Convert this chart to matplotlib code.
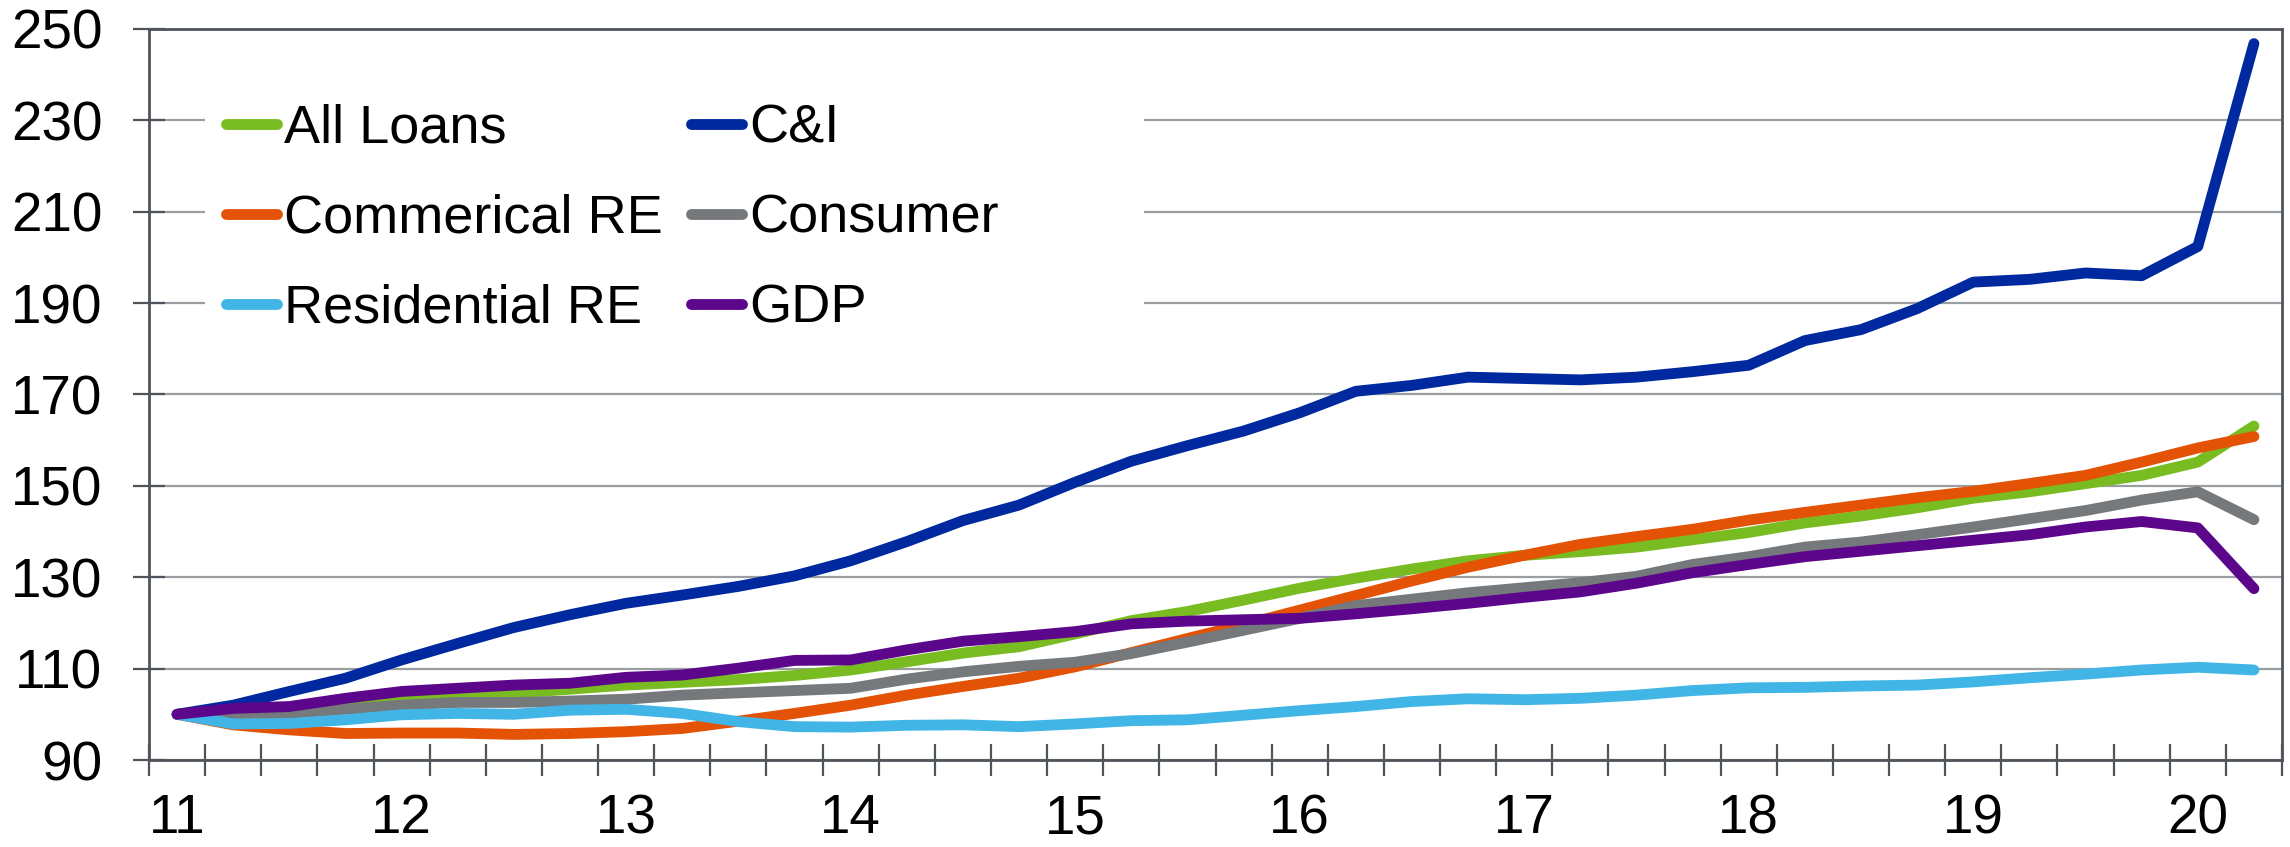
import matplotlib
matplotlib.use("Agg")
import matplotlib.pyplot as plt
from matplotlib.patches import Rectangle
import numpy as np

plt.rcParams['font.family'] = ['Liberation Sans', 'DejaVu Sans']

# Quarterly index, 2011Q1 = 100 (2011Q1 .. 2020Q2)
year_labels = ['11', '12', '13', '14', '15', '16', '17', '18', '19', '20']

all_loans = [100, 101.0, 101.5, 102.5, 103.4, 104.1, 104.6, 105.5, 106.4, 107.0,
             107.6, 108.5, 109.7, 111.5, 113.4, 114.8, 117.6, 120.5, 122.5, 125.0,
             127.6, 129.8, 131.8, 133.6, 134.8, 135.6, 136.6, 138.2, 139.8, 141.9,
             143.4, 145.2, 147.3, 148.7, 150.5, 152.3, 155.2, 163.1]
c_and_i = [100, 102.0, 105.0, 107.9, 111.9, 115.5, 119.0, 121.8, 124.3, 126.1,
           128.0, 130.3, 133.6, 137.8, 142.4, 145.8, 150.8, 155.4, 158.8, 162.0,
           166.0, 170.7, 172.0, 173.8, 173.5, 173.2, 173.8, 175.0, 176.4, 181.8,
           184.2, 188.8, 194.6, 195.2, 196.6, 196.0, 202.4, 246.8]
commercial_re = [100, 97.7, 96.6, 95.8, 95.9, 95.9, 95.6, 95.8, 96.2, 96.9,
                 98.5, 100.2, 102.0, 104.2, 106.1, 107.9, 110.4, 113.5, 116.6, 119.6,
                 122.8, 126.0, 129.2, 132.2, 134.8, 137.2, 138.9, 140.5, 142.5, 144.2,
                 145.8, 147.4, 148.8, 150.5, 152.3, 155.2, 158.3, 160.8]
consumer = [100, 100.0, 100.2, 101.1, 102.0, 102.6, 102.6, 102.9, 103.3, 104.2,
            104.7, 105.2, 105.7, 107.7, 109.3, 110.5, 111.4, 113.3, 115.8, 118.4,
            121.0, 123.8, 125.2, 126.6, 127.7, 128.8, 130.2, 132.8, 134.5, 136.6,
            137.7, 139.3, 141.0, 142.8, 144.6, 146.9, 148.7, 142.6]
residential_re = [100, 97.9, 98.0, 98.8, 99.9, 100.2, 100.0, 100.9, 101.1, 100.2,
                  98.4, 97.3, 97.2, 97.6, 97.7, 97.3, 97.9, 98.6, 98.8, 99.8,
                  100.8, 101.7, 102.8, 103.4, 103.2, 103.5, 104.2, 105.2, 105.8, 105.9,
                  106.2, 106.4, 107.1, 108.0, 108.8, 109.7, 110.3, 109.7]
gdp = [100, 101.3, 101.7, 103.5, 105.0, 105.7, 106.4, 106.8, 108.1, 108.6,
       110.1, 111.8, 111.9, 114.1, 116.0, 117.0, 118.1, 119.8, 120.4, 120.7,
       121.0, 122.0, 123.1, 124.3, 125.6, 126.8, 128.7, 131.0, 132.8, 134.5,
       135.7, 136.9, 138.1, 139.3, 141.0, 142.2, 140.8, 127.5]

series_names = ['All Loans', 'C&I', 'Commerical RE', 'Consumer', 'Residential RE', 'GDP']
series_values = [all_loans, c_and_i, commercial_re, consumer, residential_re, gdp]
series_colors = ['#78bc21', '#0029a0', '#e35205', '#76797c', '#41b6e6', '#5c068c']

y_ticks = [90, 110, 130, 150, 170, 190, 210, 230, 250]

fig = plt.figure(figsize=(22.9, 8.47), dpi=100)
ax = fig.add_axes([149 / 2290, 87 / 847, 2133 / 2290, 731 / 847])

LW = 7.8
n = len(all_loans)
x = np.arange(n)
handles = {}
for i, (name, vals, col) in enumerate(zip(series_names, series_values, series_colors)):
    h, = ax.plot(x, vals, color=col, lw=LW, solid_capstyle='round',
                 solid_joinstyle='round', zorder=3 + i, label=name)
    handles[name] = h

ax.set_xlim(-0.5, n - 0.5)
ax.set_ylim(90, 250)

spine_col = '#4e545a'
for s in ax.spines.values():
    s.set_color(spine_col)
    s.set_linewidth(2.0)

ax.set_yticks(y_ticks)
ax.set_yticklabels([str(v) for v in y_ticks])
ax.tick_params(axis='y', direction='inout', length=23, width=1.6, color=spine_col,
               labelsize=39.5, pad=22)
ax.yaxis.grid(True, color='#9a9da1', lw=1.6, zorder=1)
ax.set_axisbelow(True)

# quarter boundaries as ticks, year labels at first quarter of each year
ax.set_xticks(np.arange(-0.5, n, 1.0))
ax.set_xticklabels([])
ax.tick_params(axis='x', which='major', direction='inout', length=23, width=1.6,
               color=spine_col)
label_pos = [4 * k for k in range(len(year_labels))]
ax.set_xticks(label_pos, minor=True)
ax.set_xticklabels(year_labels, minor=True)
ax.tick_params(axis='x', which='minor', length=0, labelsize=39.5, pad=24)

# legend background
ax.add_patch(Rectangle((0.0263, 0.56), 0.44, 0.38, transform=ax.transAxes,
                       facecolor='white', edgecolor='none', zorder=2))

order = ['All Loans', 'Commerical RE', 'Residential RE', 'C&I', 'Consumer', 'GDP']
leg = ax.legend([handles[k] for k in order], order, ncol=2, loc='upper left',
                bbox_to_anchor=(0.0361, 0.898), frameon=False, fontsize=39,
                handlelength=0.94, handletextpad=0.13, columnspacing=0.53,
                labelspacing=0.74, borderpad=0, borderaxespad=0)
leg.set_zorder(20)
for lh in leg.get_lines():
    lh.set_linewidth(LW)
    lh.set_solid_capstyle('round')

fig.savefig('out.png', dpi=100, facecolor='white')
